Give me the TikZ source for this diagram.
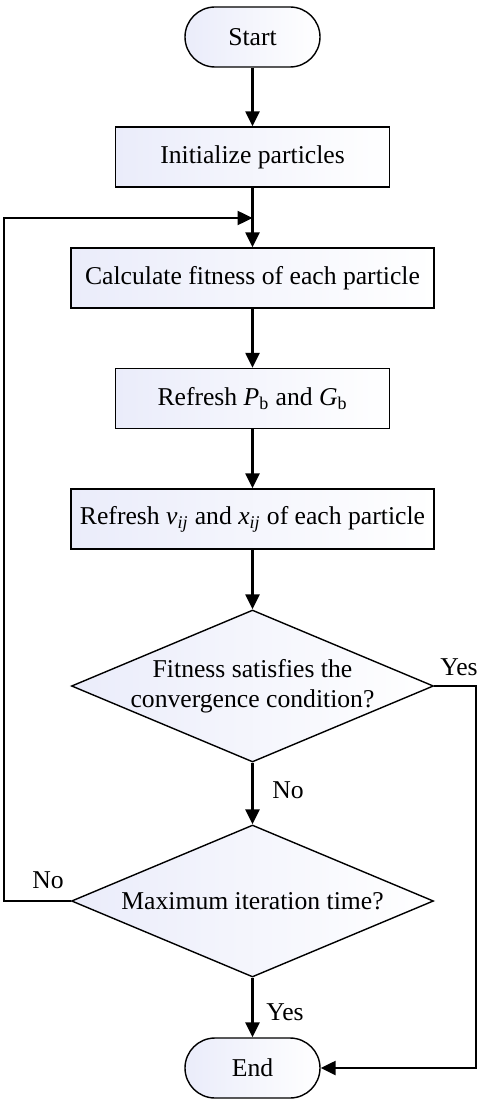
\documentclass[tikz,border=0pt]{standalone}
\usepackage{fontspec}
\setmainfont{Liberation Serif}
\usepackage{tikz}
\usetikzlibrary{positioning}
\usetikzlibrary{arrows.meta}
\usetikzlibrary{shapes.geometric}
\definecolor{boxfill}{RGB}{234,236,250}
\tikzset{term/.style = {draw, line width=0.8pt, rectangle, rounded corners=0.6cm,
                        left color=boxfill, right color=white,
                        minimum width=2.7cm, minimum height=1.2cm}}
\tikzset{proc/.style = {draw, line width=0.8pt, rectangle,
                        left color=boxfill, right color=white,
                        minimum height=1.2cm}}
\tikzset{decis/.style = {draw, line width=0.8pt, diamond, inner sep=0,
                         left color=boxfill, right color=white,
                         minimum width=7.24cm, minimum height=3.04cm}}
\tikzset{flow/.style = {line width=1.4pt, -{Triangle[length=0.3cm,width=0.28cm]}}}
\tikzset{every picture/.style={
    every node/.style={font=\fontsize{14.6}{17}\selectfont},
}}
\begin{document}
\begin{tikzpicture}
      \useasboundingbox (0,0) rectangle (9.68,-22.12);
      \node[term] (start) at (5.05,-0.74) {Start};
      \node[proc, minimum width=5.48cm] (init) at (5.05,-3.14) {Initialize particles};
      \node[proc, minimum width=7.26cm] (calc) at (5.05,-5.56) {Calculate fitness of each particle};
      \node[proc, minimum width=5.48cm] (refpg) at (5.05,-7.97)
        {Refresh \textit{P}\textsubscript{b} and \textit{G}\textsubscript{b}};
      \node[proc, minimum width=7.26cm] (refvx) at (5.05,-10.38)
        {Refresh \textit{v\textsubscript{ij}} and \textit{x\textsubscript{ij}} of each particle};
      \node[decis, label={[align=center]center:Fitness satisfies the\\convergence condition?}]
        (conv) at (5.05,-13.72) {};
      \node[decis, label=center:Maximum iteration time?] (maxit) at (5.05,-18.02) {};
      \node[term] (end) at (5.05,-21.36) {End};
      \coordinate (join) at (5.05,-4.36);
      \coordinate (ltop) at (0.08,-4.36);
      \coordinate (rtop) at (9.52,-13.72);
      \draw[flow] (start) -- (init);
      \draw[flow] (init) -- (calc);
      \draw[flow] (calc) -- (refpg);
      \draw[flow] (refpg) -- (refvx);
      \draw[flow] (refvx) -- (conv);
      \draw[flow] (conv) -- (maxit);
      \draw[flow] (maxit) -- (end);
      \draw[flow] (maxit.west) -| (ltop) -- (join);
      \draw[flow] (conv.east) -- (rtop) |- (end.east);
      \node (yes1) at (9.18,-13.34) {Yes};
      \node (no1) at (5.76,-15.8) {No};
      \node (no2) at (0.96,-17.6) {No};
      \node (yes2) at (5.7,-20.24) {Yes};
    \end{tikzpicture}
\end{document}
